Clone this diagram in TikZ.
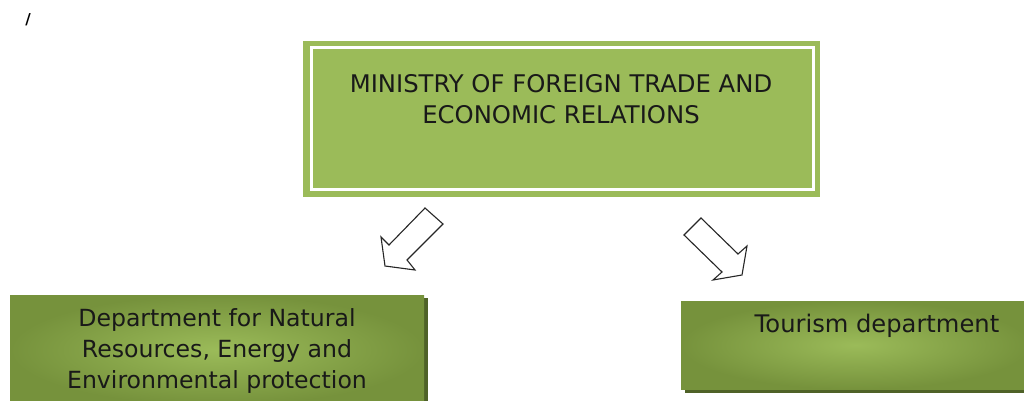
\documentclass[tikz,border=0pt]{standalone}
\usepackage{fontspec}
\setmainfont{DejaVu Sans}
\begin{document}
\begin{tikzpicture}[x=1pt,y=-1pt,
  lbl/.style={font=\fontsize{23.6}{31}\selectfont, text=black!90, align=center, inner sep=0pt},
  blockarrow/.style={draw=black!85, line width=1.1pt, fill=white, line join=miter}]
\definecolor{leaf}{HTML}{9BBB59}
\definecolor{moss}{HTML}{76923C}
\definecolor{mossdark}{HTML}{4F6228}
\useasboundingbox (0,0) rectangle (1024,401);

% stray mark in the corner
\node[font=\fontsize{15}{15}\selectfont\bfseries, inner sep=0pt] (mark) at (28,20) {/};

% ministry box: solid green with an inset white frame
\fill[leaf] (303,41) rectangle (820,197);
\draw[white, line width=3pt] (311,48) rectangle (813,189);
\node[lbl, font=\fontsize{24.3}{31}\selectfont] (ministry) at (561,99) {MINISTRY OF FOREIGN TRADE AND\\ECONOMIC RELATIONS};

% left department box with shadow and soft gradient
\fill[mossdark] (14,298) rectangle (428,405);
\shade[inner color=leaf, outer color=moss] (10,295) rectangle (424,405);
\node[lbl] (natres) at (217,351) {Department for Natural\\Resources, Energy and\\Environmental protection};

% right department box with shadow and soft gradient
\fill[mossdark] (685,305) rectangle (1030,393);
\shade[inner color=leaf, outer color=moss] (681,301) rectangle (1030,389);
\node[lbl, font=\fontsize{24.2}{31}\selectfont] (tourism) at (877,326) {Tourism department};

% hollow block arrows
\draw[blockarrow] (425,208) -- (389,245) -- (381,237) -- (385,266) -- (415,270) -- (407,260) -- (443,224) -- cycle;
\draw[blockarrow] (701,218) -- (684,235) -- (722,272) -- (713,280) -- (742,275) -- (747,246) -- (738,254) -- cycle;
\end{tikzpicture}
\end{document}
